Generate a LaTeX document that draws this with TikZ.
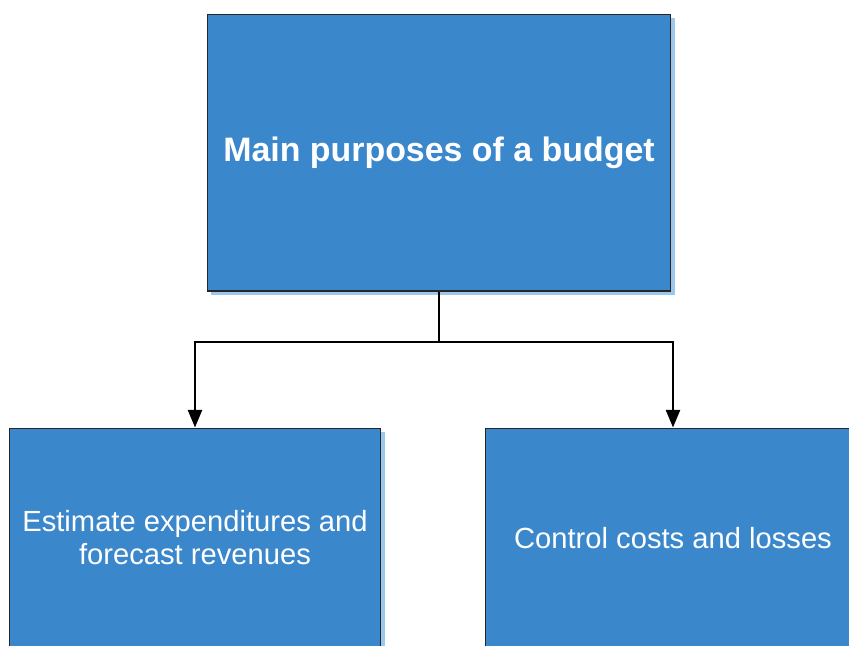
\documentclass[tikz,border=0pt]{standalone}
\usepackage{fontspec}
\setmainfont{Liberation Sans}
\usepackage{tikz}
\usetikzlibrary{arrows.meta,shadows}
\definecolor{boxblue}{HTML}{3A87CB}
\definecolor{shadowblue}{HTML}{9CC8EC}

\begin{document}
\begin{tikzpicture}[x=0.02cm,y=-0.02cm,
    purpose_box/.style={rectangle,draw=black!85,line width=0.6pt,fill=boxblue,text=white,align=center,
        drop shadow={shadow xshift=0.08cm,shadow yshift=-0.08cm,fill=shadowblue,opacity=1}},
    branch/.style={line width=1.2pt,-{Triangle[length=10pt,width=8pt]}}]
    \clip (0,0) rectangle (849,646);
    \node[purpose_box,minimum width=9.28cm,minimum height=5.54cm,font=\fontsize{19.3}{23}\selectfont\bfseries] (main) at (439,152.5) {Main purposes of a budget};
    \node[purpose_box,minimum width=7.44cm,minimum height=4.4cm,font=\fontsize{16.6}{18.8}\selectfont] (estimate) at (195,538) {Estimate expenditures and\\forecast revenues};
    \node[purpose_box,minimum width=7.52cm,minimum height=4.4cm,font=\fontsize{16.6}{18.8}\selectfont] (control) at (673,538) {Control costs and losses};
    \coordinate (split) at (439,342);
    \draw[line width=1.2pt] (main.south) -- (split);
    \draw[branch] (split) -| (estimate.north);
    \draw[branch] (split) -| (control.north);
\end{tikzpicture}
\end{document}
